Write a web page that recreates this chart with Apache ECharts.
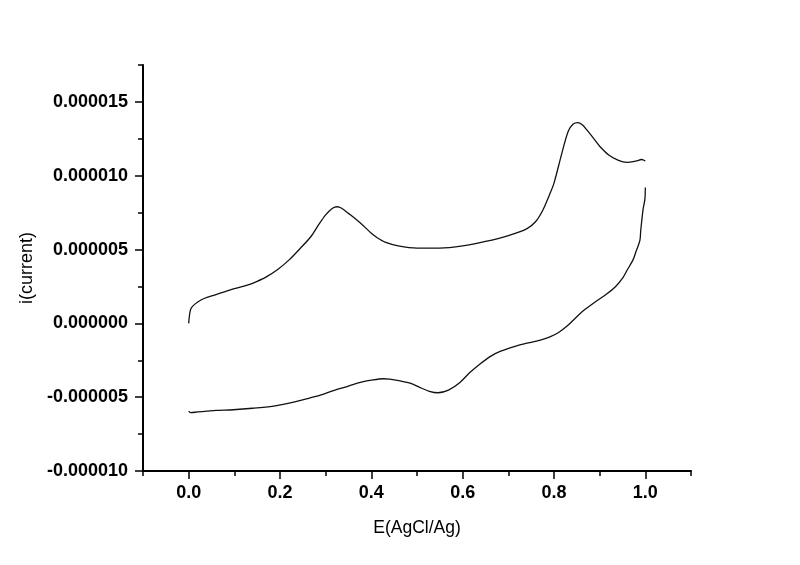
<!DOCTYPE html>
<html>
<head>
<meta charset="utf-8">
<script src="https://cdn.jsdelivr.net/npm/echarts@6/dist/echarts.min.js"></script>
<style>
html,body{margin:0;padding:0;background:#fff;}
#c{width:800px;height:565px;}
</style>
</head>
<body>
<div id="c"></div>
<script>
// Forward scan (upper branch), E in V, i in A
const forwardE = [0.000,0.002,0.005,0.010,0.020,0.035,0.055,0.080,0.100,0.130,0.150,0.170,0.195,0.220,0.245,0.267,0.285,0.300,0.315,0.325,0.335,0.350,0.376,0.400,0.413,0.430,0.459,0.500,0.550,0.600,0.650,0.700,0.740,0.760,0.776,0.790,0.800,0.817,0.831,0.842,0.852,0.862,0.872,0.890,0.900,0.920,0.940,0.960,0.980,0.992,1.000];
const forwardI = [0.0e-6,0.6e-6,1.0e-6,1.2e-6,1.45e-6,1.7e-6,1.9e-6,2.15e-6,2.35e-6,2.6e-6,2.85e-6,3.15e-6,3.65e-6,4.3e-6,5.1e-6,5.85e-6,6.7e-6,7.35e-6,7.8e-6,7.9e-6,7.8e-6,7.45e-6,6.8e-6,6.1e-6,5.8e-6,5.5e-6,5.25e-6,5.1e-6,5.1e-6,5.25e-6,5.55e-6,5.95e-6,6.4e-6,6.9e-6,7.7e-6,8.7e-6,9.5e-6,11.5e-6,13.0e-6,13.5e-6,13.6e-6,13.45e-6,13.1e-6,12.4e-6,12.0e-6,11.4e-6,11.05e-6,10.9e-6,11.0e-6,11.1e-6,11.0e-6];
// Reverse scan (lower branch)
const reverseE = [1.000,0.999,0.995,0.990,0.988,0.980,0.973,0.960,0.951,0.935,0.916,0.890,0.864,0.845,0.828,0.810,0.791,0.770,0.747,0.720,0.682,0.660,0.638,0.615,0.594,0.570,0.546,0.527,0.507,0.485,0.463,0.440,0.426,0.400,0.376,0.350,0.317,0.290,0.260,0.220,0.186,0.140,0.098,0.060,0.040,0.020,0.004,0.000];
const reverseI = [9.2e-6,8.4e-6,7.7e-6,6.3e-6,5.6e-6,4.9e-6,4.3e-6,3.6e-6,3.1e-6,2.5e-6,2.0e-6,1.45e-6,0.85e-6,0.3e-6,-0.2e-6,-0.62e-6,-0.92e-6,-1.13e-6,-1.3e-6,-1.5e-6,-1.9e-6,-2.25e-6,-2.75e-6,-3.35e-6,-4.0e-6,-4.5e-6,-4.7e-6,-4.6e-6,-4.35e-6,-4.05e-6,-3.9e-6,-3.78e-6,-3.75e-6,-3.85e-6,-4.0e-6,-4.25e-6,-4.55e-6,-4.85e-6,-5.1e-6,-5.4e-6,-5.6e-6,-5.75e-6,-5.85e-6,-5.9e-6,-5.95e-6,-6.0e-6,-6.05e-6,-5.95e-6];

const xTickLabels = ['0.0','0.2','0.4','0.6','0.8','1.0'];
const yTickLabels = ['-0.000010','-0.000005','0.000000','0.000005','0.000010','0.000015'];
const xName = 'E(AgCl/Ag)';
const yName = 'i(current)';

const zipPairs = (a, b) => a.map((v, k) => [v, b[k]]);
const FONT = 'Liberation Sans, Arial, sans-serif';

const chart = echarts.init(document.getElementById('c'), null, {renderer: 'canvas'});
const gridL = 143, gridR = 109, gridT = 65, gridB = 94;
const plotW = 800 - gridL - gridR, plotH = 565 - gridT - gridB;
const xMin = -0.1, xMax = 1.1, yMin = -10e-6, yMax = 17.5e-6;
const xPx = v => gridL + (v - xMin) / (xMax - xMin) * plotW;
const yPx = v => gridT + (yMax - v) / (yMax - yMin) * plotH;

chart.setOption({
  backgroundColor: '#ffffff',
  animation: false,
  grid: [
    {left: gridL, right: gridR, top: gridT, bottom: gridB},
    // overlay for major x ticks (0.0 .. 1.0)
    {left: xPx(0), right: 800 - xPx(1.0), top: gridT, bottom: gridB},
    // overlay for major y ticks (-1e-5 .. 1.5e-5)
    {left: gridL, right: gridR, top: yPx(15e-6), bottom: gridB}
  ],
  xAxis: [
    {
      type: 'value', gridIndex: 0, min: xMin, max: xMax, interval: 0.1,
      name: xName, nameLocation: 'middle', nameGap: 48,
      nameTextStyle: {fontFamily: FONT, fontSize: 17.5, color: '#000'},
      axisLine: {show: true, onZero: false, lineStyle: {color: '#000', width: 2}},
      axisTick: {show: true, inside: false, length: 5, lineStyle: {color: '#000', width: 1.5}},
      axisLabel: {
        margin: 13, fontFamily: FONT, fontSize: 18, fontWeight: 'bold', color: '#000',
        formatter: v => {
          const k = Math.round(v * 10);
          if (k < 0 || k % 2 !== 0) return '';
          return xTickLabels[k / 2] || '';
        }
      },
      splitLine: {show: false}
    },
    {
      type: 'value', gridIndex: 1, min: 0, max: 1.0, interval: 0.2,
      axisLine: {show: false, onZero: false},
      axisTick: {show: true, inside: false, length: 8, lineStyle: {color: '#000', width: 1.5}},
      axisLabel: {show: false}, splitLine: {show: false}
    },
    {
      type: 'value', gridIndex: 2, min: xMin, max: xMax, show: false
    }
  ],
  yAxis: [
    {
      type: 'value', gridIndex: 0, min: yMin, max: yMax, interval: 2.5e-6,
      name: yName, nameLocation: 'middle', nameGap: 106, nameRotate: 90,
      nameTextStyle: {fontFamily: FONT, fontSize: 18, color: '#000'},
      axisLine: {show: true, onZero: false, lineStyle: {color: '#000', width: 2}},
      axisTick: {show: true, inside: false, length: 5, lineStyle: {color: '#000', width: 1.5}},
      axisLabel: {
        margin: 15, fontFamily: FONT, fontSize: 18, fontWeight: 'bold', color: '#000',
        formatter: v => {
          const k = Math.round(v / 2.5e-6);
          if (k % 2 !== 0) return '';
          const idx = (k + 4) / 2;
          return yTickLabels[idx] || '';
        }
      },
      splitLine: {show: false}
    },
    {
      type: 'value', gridIndex: 1, min: yMin, max: yMax, show: false
    },
    {
      type: 'value', gridIndex: 2, min: yMin, max: 15e-6, interval: 5e-6,
      axisLine: {show: false, onZero: false},
      axisTick: {show: true, inside: false, length: 8, lineStyle: {color: '#000', width: 1.5}},
      axisLabel: {show: false}, splitLine: {show: false}
    }
  ],
  series: [
    {
      type: 'line', xAxisIndex: 0, yAxisIndex: 0,
      data: zipPairs(forwardE, forwardI),
      showSymbol: false, smooth: 0.3,
      lineStyle: {color: '#111', width: 1.3}
    },
    {
      type: 'line', xAxisIndex: 0, yAxisIndex: 0,
      data: zipPairs(reverseE, reverseI),
      showSymbol: false, smooth: 0.3,
      lineStyle: {color: '#111', width: 1.3}
    }
  ]
});
</script>
</body>
</html>
